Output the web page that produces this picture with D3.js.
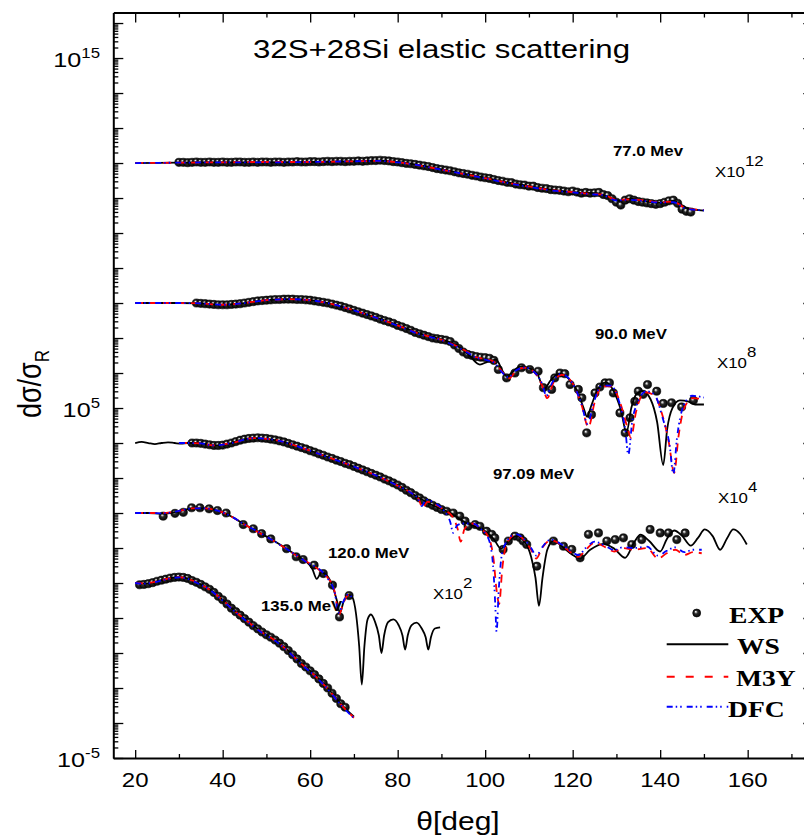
<!DOCTYPE html>
<html lang="en">
<head>
<meta charset="UTF-8">
<title>32S+28Si elastic scattering</title>
<style>
  body { margin: 0; background: #fff; }
  svg { display: block; }
</style>
</head>
<body>
<div id="chart"></div>
<script src="https://cdn.jsdelivr.net/npm/d3@7"></script>
<script>
// values are log10(dsigma/dsigma_R), before the x10^n shift
var energies = ["77.0 Mev", "90.0 MeV", "97.09 MeV", "120.0 MeV", "135.0 MeV"];
var scalePow = [12, 8, 4, 2, 0];
var xMajor = [20, 40, 60, 80, 100, 120, 140, 160];
var xMinor = [30, 50, 70, 90, 110, 130, 150, 170];
var yLabelPow = [-5, 5, 15];
var legendNames = ["EXP", "WS", "M3Y", "DFC"];

// ---- 77 MeV
var exp77 = [[30,0.02],[31,0.02],[32,0.01],[33,0.02],[34,0.03],[35,0.02],[36,0.02],[37,0.03],[38,0.02],[39,0.02],[40,0.03],[41,0.02],[42,0.02],[43,0.03],[44,0.03],[45,0.02],[46,0.02],[47,0.03],[48,0.02],[49,0.03],[50,0.03],[51,0.02],[52,0.03],[53,0.03],[54,0.02],[55,0.03],[56,0.03],[57,0.04],[58,0.03],[59,0.03],[60,0.04],[61,0.04],[62,0.03],[63,0.04],[64,0.05],[65,0.04],[66,0.05],[67,0.05],[68,0.04],[69,0.05],[70,0.05],[71,0.06],[72,0.05],[73,0.06],[74,0.07],[75,0.07],[76,0.08],[77,0.07],[78,0.06],[79,0.04],[80,0.03],[81,0.01],[82,-0.01],[83,-0.02],[84,-0.04],[85,-0.06],[86,-0.08],[87,-0.10],[88,-0.13],[89,-0.16],[90,-0.18],[91,-0.20],[92,-0.22],[93,-0.25],[94,-0.28],[95,-0.30],[96,-0.32],[97,-0.35],[98,-0.37],[99,-0.40],[100,-0.42],[101,-0.44],[102,-0.47],[103,-0.50],[104,-0.52],[105,-0.55],[106,-0.56],[107,-0.60],[108,-0.62],[109,-0.63],[110,-0.66],[111,-0.66],[112,-0.70],[113,-0.72],[114,-0.73],[115,-0.76],[116,-0.77],[117,-0.78],[118,-0.80],[119,-0.82],[120,-0.80],[121,-0.83],[122,-0.86],[123,-0.84],[124,-0.86],[125,-0.85],[126,-0.84],[127,-0.90],[128,-0.93],[129,-1.02],[130,-1.12],[131,-1.20],[132,-1.06],[133,-1.02],[134,-1.06],[135,-1.10],[136,-1.12],[137,-1.14],[138,-1.16],[139,-1.18],[140,-1.16],[141,-1.12],[142,-1.08],[143,-1.06],[144,-1.15],[145,-1.32],[146,-1.38],[147,-1.40]];
var ws77 = [[20,0],[30,0.01],[40,0.02],[50,0.02],[60,0.03],[70,0.05],[76,0.07],[80,0.03],[85,-0.06],[90,-0.18],[95,-0.3],[100,-0.42],[105,-0.55],[110,-0.66],[115,-0.76],[119,-0.82],[122,-0.85],[125,-0.86],[128,-0.95],[130.5,-1.08],[133,-1.02],[136,-1.08],[140,-1.14],[143,-1.08],[146,-1.28],[150,-1.36]];
var m3y77 = [[20,0],[30,0.01],[40,0.02],[50,0.03],[60,0.03],[70,0.05],[76,0.06],[80,0.02],[85,-0.07],[90,-0.19],[95,-0.31],[100,-0.43],[105,-0.56],[110,-0.67],[115,-0.77],[120,-0.83],[124,-0.88],[127,-0.9],[130,-1.05],[133,-1.04],[136,-1.06],[140,-1.12],[143,-1.1],[146,-1.3],[150,-1.34]];
var dfc77 = [[20,0],[30,0.01],[40,0.02],[50,0.02],[60,0.03],[70,0.05],[76,0.06],[80,0.02],[85,-0.07],[90,-0.19],[95,-0.31],[100,-0.44],[105,-0.57],[110,-0.68],[115,-0.78],[120,-0.84],[124,-0.89],[127,-0.92],[130,-1.07],[133,-1.05],[136,-1.08],[140,-1.13],[143,-1.12],[146,-1.31],[150,-1.35]];

// ---- 90 MeV
var exp90 = [[34,0.0],[35,-0.01],[36,-0.02],[37,-0.03],[38,-0.04],[39,-0.05],[40,-0.05],[41,-0.05],[42,-0.04],[43,-0.03],[44,-0.02],[45,0.0],[46,0.02],[47,0.04],[48,0.06],[49,0.07],[50,0.08],[51,0.09],[52,0.10],[53,0.10],[54,0.11],[55,0.11],[56,0.11],[57,0.10],[58,0.10],[59,0.09],[60,0.08],[61,0.06],[62,0.04],[63,0.02],[64,0.0],[65,-0.03],[66,-0.06],[67,-0.09],[68,-0.13],[69,-0.17],[70,-0.21],[71,-0.25],[72,-0.29],[73,-0.33],[74,-0.37],[75,-0.41],[76,-0.46],[77,-0.50],[78,-0.54],[79,-0.58],[80,-0.64],[81,-0.68],[82,-0.73],[83,-0.78],[84,-0.84],[85,-0.88],[86,-0.92],[87,-0.96],[88,-1.0],[89,-1.02],[90,-1.04],[91,-1.06],[92,-1.1],[93,-1.2],[94,-1.3],[95,-1.4],[96,-1.47],[97,-1.5],[98,-1.53],[99,-1.55],[100,-1.56],[101,-1.58],[102,-1.64],[103,-1.9],[104.9,-2.14],[106.8,-2.0],[108.3,-1.85],[110.2,-1.9],[112.1,-1.95],[113.3,-2.42],[115.2,-2.47],[115.9,-2.14],[117.1,-2.0],[118.2,-2.02],[119.4,-2.33],[121.3,-2.47],[122.1,-2.71],[123.2,-3.71],[124.3,-3.19],[125.1,-2.57],[126.2,-2.4],[127.4,-2.28],[128.4,-2.28],[129.3,-2.57],[130.8,-3.14],[132,-3.71],[133.1,-3.28],[134.2,-2.81],[135,-2.52],[136.1,-2.61],[137.1,-2.33],[139.2,-2.52],[140.7,-2.87],[142.6,-2.85],[144.9,-2.97],[147.6,-2.78]];
var ws90 = [[20,0],[25,0],[30,0.0],[35,-0.01],[40,-0.05],[45,0.0],[50,0.08],[55,0.11],[60,0.08],[65,-0.03],[70,-0.21],[75,-0.41],[80,-0.63],[85,-0.87],[90,-1.04],[93,-1.18],[96,-1.45],[98.8,-1.76],[100.5,-1.68],[102.5,-1.62],[104,-1.95],[105,-2.1],[106,-2.0],[108,-1.82],[110,-1.86],[112,-2.05],[113.5,-2.45],[115,-2.2],[117,-2.02],[119,-2.15],[121,-2.5],[122.5,-3.0],[123.3,-3.25],[124.2,-2.95],[125.8,-2.45],[127.6,-2.27],[129.5,-2.55],[131,-3.05],[132.3,-3.7],[133.4,-3.0],[134.6,-2.6],[136,-2.52],[137.8,-2.75],[139.3,-3.4],[140.7,-4.63],[141.6,-3.6],[142.8,-3.0],[144.5,-2.78],[146.5,-2.82],[148,-2.9],[150,-2.9]];
var m3y90 = [[20,0],[25,0],[30,0.0],[35,-0.01],[40,-0.05],[45,0.0],[50,0.08],[55,0.11],[60,0.08],[65,-0.03],[70,-0.21],[75,-0.42],[80,-0.64],[85,-0.88],[90,-1.05],[93,-1.2],[96,-1.4],[98,-1.55],[100,-1.6],[102,-1.68],[104,-1.98],[105.5,-2.15],[107,-1.95],[109,-1.85],[111,-1.95],[113,-2.35],[114.2,-2.72],[115.5,-2.3],[117.5,-2.05],[120,-2.3],[122,-2.9],[123.6,-3.55],[125,-2.85],[126.8,-2.38],[128.8,-2.38],[131,-2.9],[132.6,-3.6],[133.3,-3.85],[134.5,-3.1],[136.5,-2.55],[138.5,-2.62],[140.5,-3.2],[142,-4.0],[143.2,-4.85],[144.2,-3.8],[145.5,-3.0],[147.5,-2.72],[150,-2.75]];
var dfc90 = [[20,0],[25,0],[30,0.0],[35,-0.01],[40,-0.05],[45,0.0],[50,0.08],[55,0.11],[60,0.08],[65,-0.03],[70,-0.21],[75,-0.42],[80,-0.65],[85,-0.89],[90,-1.06],[93,-1.22],[96,-1.42],[98,-1.56],[100,-1.62],[102,-1.7],[104,-2.0],[105.3,-2.12],[107,-1.93],[109,-1.84],[111,-1.95],[113,-2.3],[114,-2.65],[115.3,-2.28],[117.3,-2.03],[120,-2.3],[122,-2.88],[123.4,-3.45],[124.8,-2.85],[126.6,-2.36],[128.6,-2.36],[130.8,-2.9],[132.1,-3.7],[132.7,-4.35],[133.6,-3.4],[135,-2.8],[136.8,-2.52],[138.6,-2.6],[140.6,-3.3],[142.2,-4.1],[143,-4.9],[143.8,-3.9],[145.3,-2.95],[147.3,-2.65],[150,-2.7]];

// ---- 97.09 MeV
var exp97 = [[33,0.0],[34,0.0],[35,-0.01],[36,-0.03],[37,-0.05],[38,-0.07],[39,-0.07],[40,-0.06],[41,-0.03],[42,0.0],[43,0.04],[44,0.08],[45,0.11],[46,0.13],[47,0.14],[48,0.15],[49,0.14],[50,0.13],[51,0.11],[52,0.09],[53,0.06],[54,0.03],[55,-0.01],[56,-0.05],[57,-0.09],[58,-0.13],[59,-0.17],[60,-0.22],[61,-0.26],[62,-0.31],[63,-0.35],[64,-0.40],[65,-0.44],[66,-0.49],[67,-0.53],[68,-0.58],[69,-0.62],[70,-0.67],[71,-0.72],[72,-0.77],[73,-0.82],[74,-0.87],[75,-0.92],[76,-0.97],[77,-1.03],[78,-1.08],[79,-1.14],[80,-1.2],[81,-1.27],[82,-1.35],[83,-1.42],[84,-1.5],[85,-1.57],[86,-1.65],[87,-1.72],[88,-1.78],[89,-1.84],[90,-1.9],[91.2,-1.95],[92.7,-2.0],[94.2,-2.09],[95.4,-2.23],[96.1,-2.38],[97.7,-2.33],[98.8,-2.38],[100.3,-2.52],[101.5,-2.61],[102.2,-2.71],[104.1,-3.04],[105.3,-2.8],[106.8,-2.66],[108,-2.71],[108.7,-2.8],[109.5,-2.9],[111.8,-3.52],[115.6,-2.8],[117.9,-2.95],[119.8,-3.04],[121.7,-3.28],[123.6,-2.61],[125.9,-2.57],[127.8,-2.8],[129.7,-2.76],[131.6,-2.71],[133.5,-2.9],[135.8,-2.76],[137.7,-2.47],[140,-2.57],[141.9,-2.57],[143.8,-2.76],[145.7,-2.57]];
var ws97 = [[20,0],[21.5,0.03],[23,0],[24.5,-0.03],[26,0],[27.5,0.02],[29,0],[30.5,-0.02],[32,0],[34,0.0],[36,-0.03],[38,-0.07],[40,-0.06],[42,0.0],[44,0.08],[47,0.14],[50,0.12],[53,0.06],[56,-0.05],[60,-0.22],[64,-0.4],[68,-0.58],[72,-0.77],[76,-0.98],[80,-1.2],[84,-1.5],[88,-1.78],[92,-2.0],[96,-2.3],[98,-2.4],[100,-2.52],[102,-2.75],[103.6,-3.02],[105,-2.85],[107,-2.66],[109,-2.82],[110.5,-3.25],[111.5,-3.85],[112.3,-4.65],[113.1,-3.85],[114.2,-3.05],[115.6,-2.8],[118,-3.0],[120,-3.2],[121.7,-3.3],[124,-3.05],[127,-2.88],[129.5,-3.02],[132,-3.28],[134,-2.85],[135.5,-2.62],[137.5,-2.8],[140,-3.1],[141.5,-2.75],[143.2,-2.5],[145,-2.65],[147,-2.93],[148.6,-2.72],[150.2,-2.47],[152,-2.66],[153.7,-3.05],[155.3,-2.72],[156.7,-2.47],[158.3,-2.6],[159.8,-2.9]];
var m3y97 = [[30,0.0],[32.5,0.0],[35,-0.01],[38,-0.07],[42,0.0],[47,0.14],[50,0.12],[53,0.06],[56,-0.05],[60,-0.22],[64,-0.4],[68,-0.58],[72,-0.77],[76,-0.98],[80,-1.22],[83,-1.42],[84.8,-1.6],[85.7,-1.86],[86.8,-1.68],[88.5,-1.75],[90.5,-1.9],[92.5,-2.1],[93.7,-2.45],[94.4,-2.82],[95.3,-2.45],[97,-2.3],[99,-2.45],[100.8,-2.7],[101.9,-3.3],[102.6,-4.2],[103.2,-4.6],[103.9,-3.6],[105,-2.85],[107,-2.62],[109,-2.78],[110.5,-3.05],[111.7,-3.3],[113,-3.0],[115,-2.78],[117.5,-2.92],[119.5,-3.12],[121.3,-3.25],[123,-3.05],[125,-2.85],[127.5,-2.98],[129.5,-3.1],[131.5,-3.0],[134,-3.05],[137,-3.0],[139.5,-3.3],[141.5,-3.15],[143.5,-3.05],[145.5,-3.2],[147.5,-3.12],[149.5,-3.15]];
var dfc97 = [[30,0.0],[32.5,0.0],[35,-0.01],[38,-0.07],[42,0.0],[47,0.14],[50,0.12],[53,0.06],[56,-0.05],[60,-0.22],[64,-0.4],[68,-0.58],[72,-0.77],[76,-0.98],[80,-1.22],[83,-1.42],[84.6,-1.58],[85.5,-1.8],[86.5,-1.62],[88.5,-1.72],[90.5,-1.92],[92,-2.25],[92.7,-2.57],[93.6,-2.35],[95,-2.3],[97,-2.3],[99,-2.45],[100.8,-2.75],[101.8,-3.5],[102.3,-4.6],[102.6,-5.4],[103.1,-4.2],[103.8,-3.2],[105,-2.8],[107,-2.6],[109,-2.76],[110.5,-3.0],[111.7,-3.22],[113,-2.98],[115,-2.76],[117.5,-2.9],[119.5,-3.08],[121.3,-3.2],[123,-3.0],[125,-2.82],[127.5,-2.94],[129.5,-3.06],[131.5,-2.98],[134,-3.0],[137,-2.96],[139.5,-3.22],[141.5,-3.08],[143.5,-2.98],[145.5,-3.12],[147.5,-3.05],[149.5,-3.05]];

// ---- 120 MeV
var exp120 = [[26.4,-0.09],[29.1,-0.01],[31.0,0.02],[32.9,0.15],[34.8,0.15],[36.9,0.12],[38.8,0.07],[40.8,0.0],[44.7,-0.33],[47.0,-0.45],[48.9,-0.59],[51.0,-0.74],[54.6,-1.02],[56.8,-1.25],[58.4,-1.33],[60.9,-1.49],[63.0,-1.73],[65.1,-2.06],[66.7,-2.97],[68.9,-2.36]];
var ws120 = [[20,0],[23,0.0],[26,-0.02],[28,0.0],[30,0.05],[33,0.13],[36,0.13],[39,0.06],[42,-0.1],[45,-0.33],[48,-0.53],[51,-0.74],[54,-0.97],[57,-1.22],[59,-1.38],[60.5,-1.6],[61.5,-1.88],[62.6,-1.7],[63.8,-1.78],[65.2,-2.12],[66.1,-2.5],[66.8,-2.85],[67.6,-2.55],[68.7,-2.33],[69.6,-2.4],[70.5,-2.9],[71.2,-3.8],[71.8,-4.9],[72.4,-3.8],[73.1,-3.05],[73.9,-2.9],[74.8,-3.1],[75.7,-3.5],[76.3,-4.0],[76.9,-3.5],[77.8,-3.12],[79,-3.04],[80.2,-3.2],[81.1,-3.5],[81.7,-3.9],[82.3,-3.5],[83.2,-3.2],[84.3,-3.13],[85.5,-3.3],[86.4,-3.55],[87,-3.9],[87.6,-3.55],[88.5,-3.3],[89.7,-3.27]];
var m3y120 = [[20,0],[23,0.0],[26,0.0],[28,0.02],[30,0.06],[33,0.13],[36,0.13],[39,0.06],[42,-0.1],[45,-0.33],[48,-0.54],[51,-0.75],[54,-0.98],[57,-1.23],[60,-1.45],[62,-1.62],[64,-1.85],[65.5,-2.2],[66.6,-2.9],[67.5,-2.6],[68.7,-2.35],[69.5,-2.42]];
var dfc120 = [[20,0],[23,0.0],[26,-0.01],[28,0.01],[30,0.06],[33,0.13],[36,0.13],[39,0.06],[42,-0.1],[45,-0.33],[48,-0.53],[51,-0.75],[54,-0.98],[57,-1.22],[59.5,-1.43],[61,-1.52],[62.5,-1.65],[64,-1.87],[65.5,-2.22],[66.6,-2.85],[67.5,-2.55],[68.7,-2.33],[69.5,-2.4]];

// ---- 135 MeV
var exp135 = [[21,-0.05],[22,-0.04],[23,-0.02],[24,0.01],[25,0.05],[26,0.08],[27,0.11],[28,0.14],[29,0.16],[30,0.17],[31,0.16],[32,0.13],[33,0.07],[34,0.02],[35,-0.04],[36,-0.11],[37,-0.18],[38,-0.27],[39,-0.38],[40,-0.48],[41,-0.6],[42,-0.72],[43,-0.82],[44,-0.92],[45,-1.02],[46,-1.12],[47,-1.22],[48,-1.31],[49,-1.4],[50,-1.48],[51,-1.55],[52,-1.63],[53,-1.72],[54,-1.82],[55,-1.93],[56,-2.05],[57,-2.17],[58,-2.3],[59,-2.4],[60,-2.51],[61,-2.62],[62,-2.74],[63,-2.87],[64,-3.0],[65,-3.15],[66,-3.3],[67,-3.45],[68,-3.55]];
var ws135 = [[20,0],[22,-0.02],[24,0.01],[26,0.08],[28,0.14],[30,0.17],[32,0.13],[34,0.02],[37,-0.18],[40,-0.48],[43,-0.82],[46,-1.12],[49,-1.4],[52,-1.63],[55,-1.93],[58,-2.3],[61,-2.62],[64,-3.0],[67,-3.45],[70,-3.82]];
var m3y135 = [[20,0],[22,-0.01],[24,0.02],[26,0.08],[28,0.14],[30,0.17],[32,0.12],[34,0.02],[37,-0.19],[40,-0.49],[43,-0.83],[46,-1.13],[49,-1.41],[52,-1.64],[55,-1.95],[58,-2.31],[61,-2.64],[64,-3.02],[67,-3.47],[70,-3.85]];
var dfc135 = [[20,0],[22,-0.02],[24,0.01],[26,0.07],[28,0.13],[30,0.16],[32,0.12],[34,0.01],[37,-0.19],[40,-0.5],[43,-0.84],[46,-1.14],[49,-1.42],[52,-1.65],[55,-1.96],[58,-2.32],[61,-2.65],[64,-3.03],[67,-3.48],[70,-3.86]];

var expSets = [exp77, exp90, exp97, exp120, exp135];
var wsSets = [ws77, ws90, ws97, ws120, ws135];
var m3ySets = [m3y77, m3y90, m3y97, m3y120, m3y135];
var dfcSets = [dfc77, dfc90, dfc97, dfc120, dfc135];

var W = 804, H = 837;
// (window.top is read-only, so the frame edges get their own names)
var plotL = 113.3, plotR = 813.3, plotT = 12.5, plotB = 758;
var SX = 1.2; // glyphs in the reference are drawn wider than tall
var SANS = "Arial, 'Liberation Sans', sans-serif";
var SERIF = "'Times New Roman', 'Liberation Serif', serif";

var svg = d3.select("#chart").append("svg")
    .attr("width", W)
    .attr("height", H);

var x = d3.scaleLinear().domain([15, 175]).range([plotL, plotR]);
var y = d3.scaleLog().domain([1e-5, 2e16]).range([plotB, plotT]);

function val(d, p) { return Math.pow(10, d[1] + p); }

// little shaded balls for the experimental points
var defs = svg.append("defs");
var grad = defs.append("radialGradient").attr("id", "ball")
    .attr("cx", "50%").attr("cy", "50%").attr("r", "55%")
    .attr("fx", "36%").attr("fy", "32%");
grad.append("stop").attr("offset", "0%").attr("stop-color", "#ffffff");
grad.append("stop").attr("offset", "14%").attr("stop-color", "#c8c8c8");
grad.append("stop").attr("offset", "40%").attr("stop-color", "#2a2a2a");
grad.append("stop").attr("offset", "100%").attr("stop-color", "#000000");

defs.append("clipPath").attr("id", "plot")
    .append("rect").attr("x", plotL).attr("y", plotT)
    .attr("width", plotR - plotL).attr("height", plotB - plotT);

// axis tick values
var yMajor = d3.range(-5, 17).map(function(e) { return Math.pow(10, e); });
var yMinor = [];
d3.range(-5, 17).forEach(function(e) {
    for (var k = 2; k <= 9; k++) {
        var v = k * Math.pow(10, e);
        if (v < 2e16) yMinor.push(v);
    }
});

function styleAxis(g, keepDomain) {
    g.selectAll(".tick line").attr("stroke", "#000").attr("stroke-width", 1.3);
    if (keepDomain) g.select(".domain").attr("stroke", "#000").attr("stroke-width", 2);
    else g.select(".domain").remove();
    g.selectAll(".tick text").remove();
}

// left & right
svg.append("g").attr("transform", "translate(" + plotL + ",0)")
    .call(d3.axisRight(y).tickValues(yMajor).tickSize(10).tickSizeOuter(0).tickFormat(""))
    .call(styleAxis, true);
svg.append("g").attr("transform", "translate(" + plotL + ",0)")
    .call(d3.axisRight(y).tickValues(yMinor).tickSize(5).tickSizeOuter(0).tickFormat(""))
    .call(styleAxis, false);
svg.append("g").attr("transform", "translate(" + plotR + ",0)")
    .call(d3.axisLeft(y).tickValues(yMajor).tickSize(10).tickSizeOuter(0).tickFormat(""))
    .call(styleAxis, true);
svg.append("g").attr("transform", "translate(" + plotR + ",0)")
    .call(d3.axisLeft(y).tickValues(yMinor).tickSize(5).tickSizeOuter(0).tickFormat(""))
    .call(styleAxis, false);

// bottom & top
svg.append("g").attr("transform", "translate(0," + plotB + ")")
    .call(d3.axisTop(x).tickValues(xMajor).tickSize(8).tickSizeOuter(0).tickFormat(""))
    .call(styleAxis, true);
svg.append("g").attr("transform", "translate(0," + plotB + ")")
    .call(d3.axisTop(x).tickValues(xMinor).tickSize(4).tickSizeOuter(0).tickFormat(""))
    .call(styleAxis, false);
svg.append("g").attr("transform", "translate(0," + plotT + ")")
    .call(d3.axisBottom(x).tickValues(xMajor).tickSize(10).tickSizeOuter(0).tickFormat(""))
    .call(styleAxis, true);
svg.append("g").attr("transform", "translate(0," + plotT + ")")
    .call(d3.axisBottom(x).tickValues(xMinor).tickSize(5).tickSizeOuter(0).tickFormat(""))
    .call(styleAxis, false);

// text helper: parts = [{t, dy, size}]
function addText(px, py, parts, o) {
    var tf = "translate(" + px + "," + py + ") scale(" + SX + ",1)" + (o.rotate ? " rotate(" + o.rotate + ")" : "");
    var t = svg.append("text")
        .attr("transform", tf)
        .attr("text-anchor", o.anchor || "start")
        .attr("font-family", o.family || SANS)
        .attr("font-weight", o.weight || "normal")
        .attr("font-size", o.size)
        .attr("fill", "#000");
    parts.forEach(function(p) {
        var s = t.append("tspan").text(p.t);
        if (p.dy) s.attr("dy", p.dy);
        if (p.size) s.attr("font-size", p.size);
    });
    return t;
}

// tick labels
xMajor.forEach(function(v) {
    addText(x(v), 787, [{t: String(v)}], {size: 20, anchor: "middle"});
});
yLabelPow.forEach(function(p) {
    addText(100, y(Math.pow(10, p)) + 8.5, [{t: "10"}, {t: String(p), dy: -9, size: 14}], {size: 21, anchor: "end"});
});

// axis titles
addText(458, 830, [{t: "\u03b8[deg]"}], {size: 25, anchor: "middle"});
addText(41, 384, [{t: "d\u03c3/\u03c3"}, {t: "R", dy: 7, size: 17}], {size: 27, anchor: "middle", rotate: -90});

// chart title
addText(253, 58, [{t: "32S+28Si elastic scattering"}], {size: 26});

// data
var plot = svg.append("g").attr("clip-path", "url(#plot)");

expSets.forEach(function(set, i) {
    plot.append("g").selectAll("circle")
        .data(set)
        .enter()
        .append("circle")
        .attr("cx", function(d) { return x(d[0]); })
        .attr("cy", function(d) { return y(val(d, scalePow[i])); })
        .attr("r", 4.1)
        .attr("fill", "url(#ball)")
        .attr("stroke", "#000")
        .attr("stroke-width", 0.6);
});

function drawSets(sets, color, dash, width) {
    sets.forEach(function(set, i) {
        var line = d3.line()
            .x(function(d) { return x(d[0]); })
            .y(function(d) { return y(val(d, scalePow[i])); })
            .curve(d3.curveMonotoneX);
        plot.append("path")
            .attr("d", line(set))
            .attr("fill", "none")
            .attr("stroke", color)
            .attr("stroke-width", width)
            .attr("stroke-dasharray", dash);
    });
}
drawSets(wsSets, "#000000", null, 1.8);
drawSets(m3ySets, "#ff0000", "8,6", 1.8);
drawSets(dfcSets, "#0000ff", "6,3,1.5,3,1.5,5", 1.8);

// energy labels and scale factors
var energyPos = [[613, 156], [595, 339], [493, 479], [328, 558], [261, 611]];
energies.forEach(function(e, i) {
    addText(energyPos[i][0], energyPos[i][1], [{t: e}], {size: 14, weight: "bold"});
});
var factorPos = [[715, 177], [717, 368], [718, 503], [433, 599]];
scalePow.forEach(function(p, i) {
    if (p === 0) return;
    addText(factorPos[i][0], factorPos[i][1], [{t: "X10"}, {t: String(p), dy: -11}], {size: 14});
});

// legend
var lg = {x0: 666.7, x1: 728.3, rows: [613, 644.3, 676.7, 706.7], text: [[729, 623], [737, 654], [736, 686], [728, 717]]};
svg.append("circle").attr("cx", 696.7).attr("cy", lg.rows[0]).attr("r", 4)
    .attr("fill", "url(#ball)").attr("stroke", "#000").attr("stroke-width", 0.6);
var legendStyle = [null, ["#000000", null], ["#ff0000", "8,11"], ["#0000ff", "6,3,1.5,3,1.5,5"]];
for (var i = 1; i < 4; i++) {
    svg.append("line")
        .attr("x1", lg.x0).attr("x2", lg.x1)
        .attr("y1", lg.rows[i]).attr("y2", lg.rows[i])
        .attr("stroke", legendStyle[i][0])
        .attr("stroke-width", 2)
        .attr("stroke-dasharray", legendStyle[i][1]);
}
legendNames.forEach(function(n, i) {
    addText(lg.text[i][0], lg.text[i][1], [{t: n}], {size: 23, weight: "bold", family: SERIF});
});
</script>
</body>
</html>
